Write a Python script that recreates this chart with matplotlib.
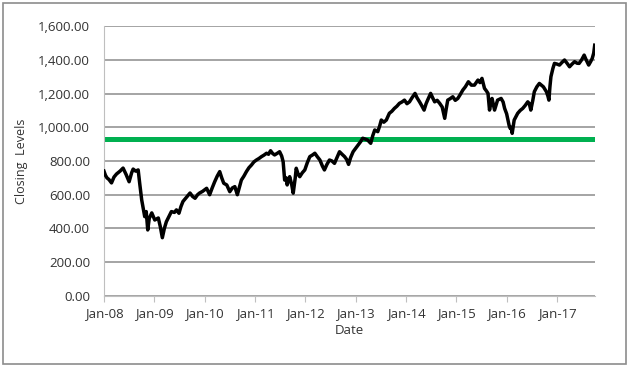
import numpy as np
from matplotlib import pyplot as plt
from matplotlib.patches import Rectangle

# valeurs (annee decimale, niveau de cloture)
dates = [2008.00, 2008.03, 2008.06, 2008.10, 2008.15, 2008.20, 2008.25, 2008.32, 2008.38, 2008.44,
         2008.50, 2008.55, 2008.58, 2008.63, 2008.68, 2008.71, 2008.75, 2008.78, 2008.81, 2008.84,
         2008.87, 2008.90, 2008.95, 2009.01, 2009.08, 2009.12, 2009.16, 2009.20, 2009.24, 2009.29,
         2009.34, 2009.40, 2009.44, 2009.49, 2009.53, 2009.57, 2009.64, 2009.71, 2009.76, 2009.81,
         2009.86, 2009.90, 2009.96, 2010.04, 2010.10, 2010.15, 2010.20, 2010.25, 2010.30, 2010.34,
         2010.38, 2010.44, 2010.50, 2010.55, 2010.60, 2010.65, 2010.73, 2010.78, 2010.83, 2010.88,
         2010.93, 2010.98, 2011.03, 2011.08, 2011.13, 2011.18, 2011.23, 2011.27, 2011.31, 2011.35,
         2011.39, 2011.44, 2011.49, 2011.53, 2011.56, 2011.59, 2011.62, 2011.64, 2011.67, 2011.69,
         2011.73, 2011.76, 2011.80, 2011.82, 2011.86, 2011.89, 2011.94, 2011.99, 2012.04, 2012.09,
         2012.14, 2012.19, 2012.24, 2012.29, 2012.34, 2012.38, 2012.43, 2012.48, 2012.53, 2012.58,
         2012.63, 2012.68, 2012.73, 2012.78, 2012.82, 2012.86, 2012.90, 2012.95, 2013.00, 2013.05,
         2013.10, 2013.14, 2013.19, 2013.24, 2013.30, 2013.34, 2013.38, 2013.44, 2013.48, 2013.51,
         2013.56, 2013.61, 2013.67, 2013.72, 2013.77, 2013.82, 2013.87, 2013.92, 2013.97, 2014.02,
         2014.07, 2014.12, 2014.18, 2014.22, 2014.27, 2014.31, 2014.36, 2014.40, 2014.43, 2014.49,
         2014.53, 2014.57, 2014.62, 2014.67, 2014.72, 2014.77, 2014.80, 2014.83, 2014.88, 2014.93,
         2014.98, 2015.03, 2015.08, 2015.13, 2015.18, 2015.24, 2015.30, 2015.36, 2015.43, 2015.47,
         2015.51, 2015.56, 2015.60, 2015.63, 2015.66, 2015.69, 2015.71, 2015.74, 2015.76, 2015.82,
         2015.89, 2015.93, 2015.96, 2016.00, 2016.02, 2016.05, 2016.07, 2016.09, 2016.11, 2016.15,
         2016.18, 2016.22, 2016.27, 2016.32, 2016.37, 2016.42, 2016.45, 2016.48, 2016.52, 2016.55,
         2016.60, 2016.65, 2016.69, 2016.73, 2016.76, 2016.79, 2016.82, 2016.84, 2016.86, 2016.88,
         2016.92, 2016.95, 2017.00, 2017.05, 2017.10, 2017.15, 2017.20, 2017.25, 2017.30, 2017.35,
         2017.40, 2017.44, 2017.49, 2017.54, 2017.58, 2017.63, 2017.67, 2017.70, 2017.73, 2017.75]

closing = [740, 715, 700, 690, 670, 705, 723, 740, 758, 720,
           677, 730, 752, 740, 747, 668, 569, 520, 470, 500,
           391, 460, 492, 450, 462, 410, 345, 400, 440, 470,
           500, 495, 510, 490, 530, 560, 585, 610, 590, 579,
           600, 610, 620, 638, 600, 640, 677, 710, 737, 700,
           668, 658, 618, 640, 648, 600, 687, 710, 737, 760,
           776, 795, 806, 815, 826, 835, 846, 840, 861, 845,
           836, 845, 855, 830, 796, 687, 700, 658, 690, 707,
           660, 609, 700, 757, 720, 707, 730, 747, 790, 826,
           835, 846, 825, 806, 770, 747, 780, 806, 800, 786,
           820, 855, 840, 826, 810, 780, 820, 855, 875, 895,
           915, 935, 930, 924, 905, 950, 984, 974, 1010, 1043,
           1030, 1043, 1083, 1095, 1112, 1125, 1142, 1150, 1161, 1140,
           1151, 1175, 1201, 1175, 1151, 1130, 1102, 1140, 1161, 1201,
           1175, 1151, 1160, 1142, 1120, 1053, 1110, 1161, 1170, 1181,
           1160, 1171, 1195, 1221, 1240, 1270, 1250, 1250, 1280, 1265,
           1290, 1231, 1215, 1201, 1102, 1150, 1171, 1130, 1102, 1161,
           1171, 1150, 1112, 1080, 1053, 1010, 994, 1000, 964, 1043,
           1060, 1083, 1100, 1112, 1130, 1151, 1140, 1102, 1160, 1211,
           1240, 1260, 1250, 1240, 1225, 1211, 1185, 1161, 1240, 1300,
           1350, 1379, 1375, 1369, 1385, 1399, 1380, 1359, 1375, 1389,
           1380, 1379, 1400, 1428, 1400, 1369, 1390, 1408, 1440, 1487]

niveau_vert = 932

annees = [2008, 2009, 2010, 2011, 2012, 2013, 2014, 2015, 2016, 2017]
labels_x = ["Jan-08", "Jan-09", "Jan-10", "Jan-11", "Jan-12",
            "Jan-13", "Jan-14", "Jan-15", "Jan-16", "Jan-17"]
ticks_y = [0, 200, 400, 600, 800, 1000, 1200, 1400, 1600]

plt.rcParams['font.family'] = ['Open Sans', 'DejaVu Sans']

fig = plt.figure(figsize=(6.3, 3.68), dpi=100)
ax = fig.add_axes([0.165, 0.196, 0.779, 0.733])

# cadre gris autour de la figure
fig.patches.append(Rectangle((0.005, 0.011), 0.989, 0.981, transform=fig.transFigure,
                             fill=False, edgecolor='#8c8c8c', linewidth=1.2))

ax.axhline(niveau_vert, color='#00b050', linewidth=3.6, zorder=2)
ax.plot(dates, closing, color='black', linewidth=2.5, zorder=3)

ax.set_xlim(2008.0, 2017.75)
ax.set_ylim(0, 1600)
ax.set_xticks(annees)
ax.set_xticklabels(labels_x)
ax.set_yticks(ticks_y)
ax.set_yticklabels(["{:,.2f}".format(v) for v in ticks_y])

ax.grid(axis='y', color='#8c8c8c', linewidth=1.1)
ax.set_axisbelow(True)
for s in ['top', 'right']:
    ax.spines[s].set_visible(False)
ax.spines['left'].set_color('#bfbfbf')
ax.spines['bottom'].set_color('#bfbfbf')
ax.tick_params(axis='y', length=0, pad=10, labelsize=9.5, colors='#333333')
ax.tick_params(axis='x', length=4, color='#bfbfbf', labelsize=9.5, labelcolor='#333333', pad=4)

ax.set_xlabel("Date", fontsize=9.5, color='#333333', labelpad=3)
ax.set_ylabel("Closing  Levels", fontsize=9, color='#333333', labelpad=7)

fig.savefig("out.png", dpi=100)
